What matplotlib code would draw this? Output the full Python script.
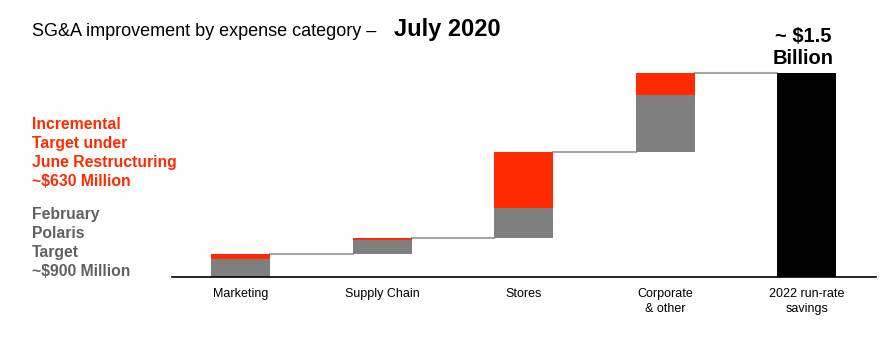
import matplotlib.pyplot as plt

categories = ["Marketing", "Supply Chain", "Stores", "Corporate\n& other", "2022 run-rate\nsavings"]
polaris = [135, 100, 226, 425]      # February Polaris target, $M
incremental = [40, 16, 425, 167]    # June restructuring increment, $M

RED = "#ff2a00"
GRAY = "#7f7f7f"
TEXT_GRAY = "#606060"
LINE = "#a6a6a6"

plt.rcParams["font.family"] = ["Liberation Sans", "DejaVu Sans"]

fig = plt.figure(figsize=(8.88, 3.4), dpi=100)
ax = fig.add_axes([172 / 888, 63 / 340, 704 / 888, 217 / 340])

width = 0.417
total = sum(polaris) + sum(incremental)
base = 0
tops = []
for i, (g, r) in enumerate(zip(polaris, incremental)):
    ax.bar(i, g, width, bottom=base, color=GRAY, zorder=2)
    ax.bar(i, r, width, bottom=base + g, color=RED, zorder=2)
    base += g + r
    tops.append(base)
ax.bar(len(polaris), total, width, color="black", zorder=2)

# connectors between steps
for i, level in enumerate(tops):
    ax.plot([i + width / 2, i + 1 - width / 2], [level, level], color=LINE, lw=1.5, zorder=1)

ax.set_xlim(-0.484, 4.49)
ax.set_ylim(0, total * 217 / 204.3)
for s in ["top", "right", "left"]:
    ax.spines[s].set_visible(False)
ax.spines["bottom"].set_linewidth(1.2)
ax.set_yticks([])
ax.set_xticks(range(len(categories)))
ax.set_xticklabels(categories, fontsize=9, linespacing=1.3)
ax.tick_params(axis="x", length=0, pad=8)

fig.text(32 / 888, 1 - 36 / 340, "SG&A improvement by expense category – ", fontsize=13,
         va="baseline", ha="left")
fig.text(394 / 888, 1 - 36 / 340, "July 2020", fontsize=17, fontweight="bold",
         va="baseline", ha="left")
fig.text(803 / 888, 1 - 68 / 340, "~ $1.5\nBillion", fontsize=14.5, fontweight="bold",
         ha="center", va="bottom", linespacing=1.2)

fig.text(32 / 888, 1 - 117 / 340, "Incremental\nTarget under\nJune Restructuring\n~$630 Million",
         fontsize=11.3, fontweight="bold", color=RED, ha="left", va="top", linespacing=1.33)
fig.text(32 / 888, 1 - 207 / 340, "February\nPolaris\nTarget\n~$900 Million",
         fontsize=11.3, fontweight="bold", color=TEXT_GRAY, ha="left", va="top", linespacing=1.33)

fig.savefig("out.png", dpi=100)
